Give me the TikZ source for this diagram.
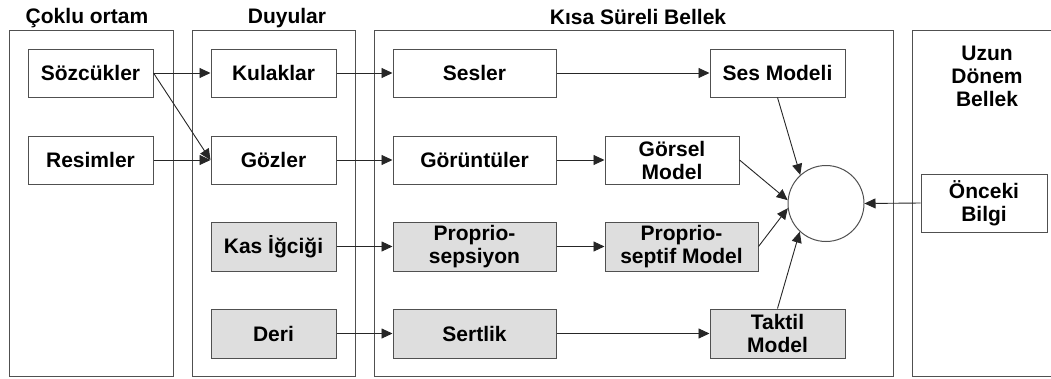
\documentclass[tikz,border=0pt]{standalone}
\usepackage{fontspec}
\setmainfont{Liberation Sans}
\usetikzlibrary{arrows.meta}
\definecolor{edgegray}{HTML}{505050}
\definecolor{boxfill}{HTML}{DEDEDE}
\tikzset{
  lbl/.style={font=\bfseries\fontsize{21}{23}\selectfont, align=center, inner sep=0pt},
  panel/.style={draw=edgegray, line width=1pt},
  stagebox/.style={lbl, draw=edgegray, line width=1pt, fill=white, minimum height=48pt},
  graybox/.style={stagebox, fill=boxfill},
  flow/.style={line width=0.9pt, draw=black!85, -{Triangle[length=11pt,width=10pt]}},
}
\begin{document}
\begin{tikzpicture}[x=1pt, y=-1pt]
  \useasboundingbox (0,0) rectangle (1051,378);

  % column panels
  \draw[panel] (9,30) rectangle (173,376.5);
  \draw[panel] (192,30) rectangle (355,376.5);
  \draw[panel] (374,30) rectangle (893,376.5);
  \draw[panel] (1062,376.5) -- (912,376.5) -- (912,30) -- (1062,30);

  % column titles
  \node[lbl, anchor=base] (t1) at (87,23) {Çoklu ortam};
  \node[lbl, anchor=base] (t2) at (287,23) {Duyular};
  \node[lbl, anchor=base] (t3) at (638,24) {Kısa Süreli Bellek};
  \node[lbl] (t4) at (987,76) {Uzun\\Dönem\\Bellek};

  % multimedia
  \node[stagebox, minimum width=125pt] (soz) at (90.5,73) {Sözcükler};
  \node[stagebox, minimum width=125pt] (res) at (90.5,160) {Resimler};

  % senses
  \node[stagebox, minimum width=125pt] (kul) at (273.5,73) {Kulaklar};
  \node[stagebox, minimum width=125pt] (goz) at (273.5,160) {Gözler};
  \node[graybox, minimum width=125pt, minimum height=49pt] (kas) at (273.5,246.5) {Kas İğciği};
  \node[graybox, minimum width=125pt, minimum height=49pt] (der) at (273.5,333.5) {Deri};

  % short-term memory
  \node[stagebox, minimum width=163pt] (ses) at (474.5,73) {Sesler};
  \node[stagebox, minimum width=163pt] (gor) at (474.5,160) {Görüntüler};
  \node[graybox, minimum width=163pt, minimum height=49pt] (pro) at (474.5,246.5) {Proprio-\\sepsiyon};
  \node[graybox, minimum width=163pt, minimum height=49pt] (ser) at (474.5,333.5) {Sertlik};

  \node[stagebox, minimum width=135pt] (sesm) at (777.5,73) {Ses Modeli};
  \node[stagebox, minimum width=134pt] (gorm) at (672,160) {Görsel\\Model};
  \node[graybox, minimum width=153pt, minimum height=49pt] (prom) at (681.5,246.5) {Proprio-\\septif Model};
  \node[graybox, minimum width=135pt, minimum height=49pt] (takm) at (777.5,333.5) {Taktil\\Model};

  \node[draw=edgegray, line width=1pt, circle, minimum size=76pt, inner sep=0pt] (mix) at (826,203.5) {};

  % long-term memory
  \node[stagebox, minimum width=126pt, minimum height=58pt] (onc) at (984,203) {Önceki\\Bilgi};

  % connectors
  \draw[flow] (soz.east) -- (kul.west);
  \draw[flow] (soz.east) -- (goz.west);
  \draw[flow] (res.east) -- (goz.west);

  \draw[flow] (kul.east) -- (ses.west);
  \draw[flow] (goz.east) -- (gor.west);
  \draw[flow] (kas.east) -- (pro.west);
  \draw[flow] (der.east) -- (ser.west);

  \draw[flow] (ses.east) -- (sesm.west);
  \draw[flow] (gor.east) -- (gorm.west);
  \draw[flow] (pro.east) -- (prom.west);
  \draw[flow] (ser.east) -- (takm.west);

  \draw[flow] (sesm.south) -- (mix.132);
  \draw[flow] (gorm.east) -- (mix.175);
  \draw[flow] (prom.east) -- (mix.187);
  \draw[flow] (takm.north) -- (mix.227);
  \draw[flow] (onc.west) -- (mix.east);
\end{tikzpicture}
\end{document}
